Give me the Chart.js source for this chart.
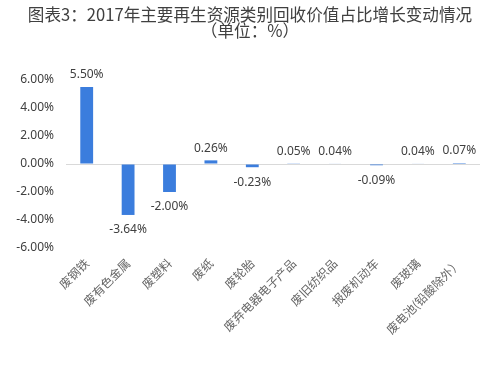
<!DOCTYPE html>
<html>
<head>
<meta charset="utf-8">
<script src="https://cdn.jsdelivr.net/npm/chart.js@4"></script>
<style>
html,body{margin:0;padding:0;background:#fff;}
#wrap{position:relative;width:500px;height:373px;}
</style>
</head>
<body>
<div id="wrap"><canvas id="c" width="500" height="373"></canvas></div>
<script>
const categories = ['废钢铁','废有色金属','废塑料','废纸','废轮胎','废弃电器电子产品','废旧纺织品','报废机动车','废玻璃','废电池(铅酸除外）'];
const values = [5.50, -3.64, -2.00, 0.26, -0.23, 0.05, 0.04, -0.09, 0.04, 0.07];
const yTicks = [-6, -4, -2, 0, 2, 4, 6];
const titleLines = ['图表3：2017年主要再生资源类别回收价值占比增长变动情况', '（单位：%）'];

const titlePlugin = {
  id: 'titleText',
  afterDraw(chart) {
    const ctx = chart.ctx;
    ctx.save();
    ctx.fillStyle = '#404040';
    ctx.font = '16.6px "Noto Sans CJK SC", sans-serif';
    ctx.textAlign = 'center';
    ctx.textBaseline = 'middle';
    ctx.fillText(titleLines[0], 250, 15);
    ctx.fillText(titleLines[1], 250, 31);
    ctx.restore();
  }
};

const valueLabels = {
  id: 'valueLabels',
  afterDatasetsDraw(chart) {
    const ctx = chart.ctx;
    const meta = chart.getDatasetMeta(0);
    ctx.save();
    ctx.fillStyle = '#404040';
    ctx.font = '12px "Noto Sans", sans-serif';
    ctx.textAlign = 'center';
    ctx.textBaseline = 'middle';
    meta.data.forEach((el, i) => {
      const v = values[i];
      const y = v >= 0 ? el.y - 12 : el.y + 15;
      ctx.fillText(v.toFixed(2) + '%', el.x, y);
    });
    ctx.restore();
  }
};

new Chart(document.getElementById('c'), {
  type: 'bar',
  data: {
    labels: categories,
    datasets: [{
      data: values,
      backgroundColor: '#3b7ddd',
      barPercentage: 0.31,
      categoryPercentage: 1.0
    }]
  },
  options: {
    responsive: false,
    animation: false,
    layout: { padding: { left: 0, right: 20, top: 80, bottom: 0 } },
    plugins: { legend: { display: false }, tooltip: { enabled: false }, title: { display: false } },
    scales: {
      x: {
        grid: { display: false, drawTicks: false },
        border: { display: false },
        ticks: {
          minRotation: 45, maxRotation: 45, padding: 8,
          color: '#666666',
          font: { size: 12, family: '"Noto Sans CJK SC", sans-serif' }
        },
        afterFit(scale) { scale.height = 125; }
      },
      y: {
        min: -6, max: 6,
        afterBuildTicks(scale) { scale.ticks = yTicks.map(v => ({ value: v })); },
        grid: {
          drawTicks: false,
          color: ctx => (ctx.tick && ctx.tick.value === 0 ? '#d9d9d9' : 'rgba(0,0,0,0)'),
          lineWidth: 1
        },
        border: { display: false },
        ticks: {
          padding: 12,
          color: '#404040',
          font: { size: 12, family: '"Noto Sans", sans-serif' },
          callback: v => Number(v).toFixed(2) + '%'
        },
        afterFit(scale) { scale.width = 66; }
      }
    }
  },
  plugins: [titlePlugin, valueLabels]
});
</script>
</body>
</html>
